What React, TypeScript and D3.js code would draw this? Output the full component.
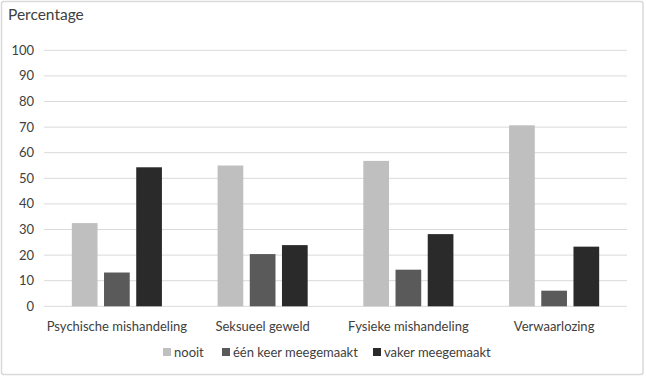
import React from "react";
import * as d3 from "d3";

const categories = ["Psychische mishandeling", "Seksueel geweld", "Fysieke mishandeling", "Verwaarlozing"];
const seriesNames = ["nooit", "één keer meegemaakt", "vaker meegemaakt"];
const nooit = [32.5, 55.0, 56.8, 70.7];
const eenKeer = [13.2, 20.4, 14.3, 6.1];
const vaker = [54.3, 23.9, 28.2, 23.3];
const yTicks = [0, 10, 20, 30, 40, 50, 60, 70, 80, 90, 100];
const colors = ["#bfbfbf", "#5a5a5a", "#2a2a2a"];

export default function App() {
  const W = 646, H = 377;
  const left = 44, right = 627, top = 50.3, bottom = 306.3;
  const series = [nooit, eenKeer, vaker];
  const x = d3.scaleBand<string>().domain(categories).range([left, right]).paddingInner(0).paddingOuter(0);
  const y = d3.scaleLinear().domain([0, 100]).range([bottom, top]);
  const barW = 25.7;
  const step = 32.2;
  const font = "Lato, 'Open Sans', sans-serif";
  const legendItems = [
    { sx: 163, tx: 174 },
    { sx: 222, tx: 233 },
    { sx: 373, tx: 384 },
  ];
  return (
    <svg width={W} height={H} style={{ position: "absolute", left: 0, top: 0 }} fontFamily={font}>
      <rect x={1.5} y={1.5} width={641.5} height={373} fill="#fff" stroke="#d9d9d9" strokeWidth={1.5} rx={2} />
      <text x={8} y={20} fontSize={15.5} fill="#404040">Percentage</text>
      {yTicks.map((t) => (
        <g key={t}>
          <line x1={left} x2={right} y1={y(t)} y2={y(t)} stroke="#d9d9d9" strokeWidth={1} />
          <text x={34} y={y(t)} dy="0.35em" textAnchor="end" fontSize={13} fill="#404040">{t}</text>
        </g>
      ))}
      {categories.map((c, ci) => {
        const cx = (x(c) as number) + x.bandwidth() / 2;
        return (
          <g key={c}>
            {series.map((s, si) => (
              <rect
                key={si}
                x={cx + (si - 1) * step - barW / 2}
                y={y(s[ci])}
                width={barW}
                height={y(0) - y(s[ci])}
                fill={colors[si]}
              />
            ))}
            <text x={cx} y={326} dy="0.35em" textAnchor="middle" fontSize={13} fill="#404040">{c}</text>
          </g>
        );
      })}
      {seriesNames.map((n, i) => (
        <g key={n}>
          <rect x={legendItems[i].sx} y={348} width={8} height={8} fill={colors[i]} />
          <text x={legendItems[i].tx} y={352} dy="0.35em" fontSize={13} fill="#404040">{n}</text>
        </g>
      ))}
    </svg>
  );
}
